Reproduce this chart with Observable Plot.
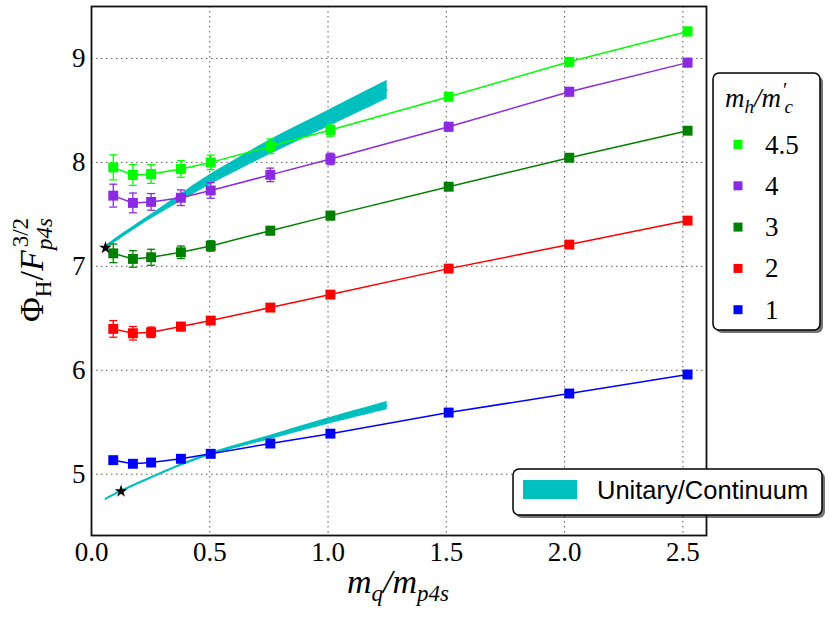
<!DOCTYPE html>
<html><head><meta charset="utf-8">
<script src="https://cdn.jsdelivr.net/npm/d3@7"></script>
<script src="https://cdn.jsdelivr.net/npm/@observablehq/plot@0.6"></script>
<style>body{margin:0;background:#fff}#chart{width:830px;height:623px}</style>
</head><body><div id="chart"></div>
<script>
// x values (m_q / m_p4s)
const mq = [0.092, 0.175, 0.252, 0.378, 0.504, 0.756, 1.01, 1.51, 2.02, 2.52];
// series (m_h / m'_c)
const ratios = ["4.5", "4", "3", "2", "1"];
const colors = ["#00ff00", "#8a2be2", "#008000", "#ff0000", "#0000ff"];
const phi_45 = [7.952, 7.879, 7.888, 7.937, 8.00, 8.155, 8.312, 8.632, 8.968, 9.26];
const err_45 = [0.12, 0.10, 0.09, 0.08, 0.07, 0.07, 0.06, 0.04, 0.04, 0.04];
const phi_4  = [7.68, 7.61, 7.62, 7.66, 7.73, 7.88, 8.033, 8.343, 8.68, 8.96];
const err_4  = [0.11, 0.095, 0.08, 0.075, 0.075, 0.065, 0.055, 0.04, 0.04, 0.04];
const phi_3  = [7.125, 7.071, 7.087, 7.135, 7.196, 7.343, 7.488, 7.766, 8.045, 8.305];
const err_3  = [0.09, 0.08, 0.077, 0.06, 0.05, 0.04, 0.04, 0.03, 0.03, 0.03];
const phi_2  = [6.398, 6.356, 6.365, 6.42, 6.478, 6.603, 6.728, 6.978, 7.209, 7.44];
const err_2  = [0.08, 0.065, 0.05, 0.04, 0.03, 0.03, 0.03, 0.03, 0.03, 0.03];
const phi_1  = [5.135, 5.10, 5.112, 5.148, 5.196, 5.295, 5.39, 5.593, 5.776, 5.959];
const err_1  = [0.035, 0.03, 0.03, 0.03, 0.03, 0.03, 0.03, 0.03, 0.03, 0.03];

// Unitary/Continuum bands
const bandUx  = [0.059, 0.15, 0.25, 0.375, 0.5, 0.75, 1.0, 1.25];
const bandUlo = [7.163, 7.306, 7.453, 7.62, 7.78, 8.07, 8.34, 8.61];
const bandUhi = [7.197, 7.344, 7.497, 7.69, 7.88, 8.21, 8.50, 8.79];
const bandLx  = [0.058, 0.125, 0.25, 0.375, 0.5, 0.75, 1.0, 1.25];
const bandLlo = [4.752, 4.828, 4.956, 5.076, 5.178, 5.33, 5.48, 5.62];
const bandLhi = [4.766, 4.846, 4.974, 5.096, 5.202, 5.37, 5.54, 5.70];

// stars
const starX = [0.059, 0.125];
const starY = [7.178, 4.836];

const xTicks = [0, 0.5, 1.0, 1.5, 2.0, 2.5];
const yTicks = [5, 6, 7, 8, 9];
const bandColor = "#00bfbf";

const vals = [phi_45, phi_4, phi_3, phi_2, phi_1];
const errs = [err_45, err_4, err_3, err_2, err_1];
const pts = ratios.flatMap((r, i) => mq.map((x, j) => ({x, y: vals[i][j], e: errs[i][j], r})));
const bands = [
  ...bandUx.map((x, j) => ({band: "U", x, lo: bandUlo[j], hi: bandUhi[j]})),
  ...bandLx.map((x, j) => ({band: "L", x, lo: bandLlo[j], hi: bandLhi[j]}))
];
const stars = starX.map((x, j) => ({x, y: starY[j]}));

const cap = {draw(ctx) { ctx.moveTo(-4, 0); ctx.lineTo(4, 0); }};
const serif = "'Liberation Serif','DejaVu Serif',serif";

const plot = Plot.plot({
  width: 830, height: 623,
  marginLeft: 91, marginRight: 124, marginTop: 6, marginBottom: 88,
  x: {domain: [0, 2.6]},
  y: {domain: [4.41, 9.5]},
  color: {domain: ratios, range: colors},
  style: {fontFamily: serif, fontSize: "26px", background: "white", overflow: "visible"},
  marks: [
    Plot.gridX(xTicks.slice(1), {stroke: "#000", strokeOpacity: 0.65, strokeDasharray: "1.5,3.5"}),
    Plot.gridY(yTicks, {stroke: "#000", strokeOpacity: 0.65, strokeDasharray: "1.5,3.5"}),
    Plot.areaY(bands, {x: "x", y1: "lo", y2: "hi", z: "band", fill: bandColor, curve: "catmull-rom"}),
    Plot.line(bands, {x: "x", y: d => (d.lo + d.hi) / 2, z: "band", stroke: bandColor, strokeWidth: 1.3, curve: "catmull-rom"}),
    Plot.line(pts, {x: "x", y: "y", z: "r", stroke: "r", strokeWidth: 1.5}),
    Plot.ruleX(pts, {x: "x", y1: d => d.y - d.e, y2: d => d.y + d.e, stroke: "r", strokeWidth: 1.3}),
    Plot.dot(pts, {x: "x", y: d => d.y + d.e, symbol: cap, stroke: "r", strokeWidth: 1.3, r: 4}),
    Plot.dot(pts, {x: "x", y: d => d.y - d.e, symbol: cap, stroke: "r", strokeWidth: 1.3, r: 4}),
    Plot.dot(pts, {x: "x", y: "y", symbol: "square", fill: "r", r: 5.6}),
    Plot.dot(stars, {x: "x", y: "y", symbol: "star", fill: "black", r: 4}),
    Plot.axisX({ticks: xTicks, tickFormat: d3.format(".1f"), tickSize: 0, tickPadding: 6, fontSize: 27, label: null}),
    Plot.axisY({ticks: yTicks, tickFormat: d => d, tickSize: 0, tickPadding: 6, fontSize: 27, label: null}),
    Plot.frame({stroke: "#111", strokeWidth: 1.8})
  ]
});
document.getElementById("chart").appendChild(plot);

const svg = d3.select(plot);

// x label
const xl = svg.append("text").attr("x", 398).attr("y", 593).attr("text-anchor", "middle")
  .style("font-family", serif).style("font-style", "italic").style("font-size", "34px").attr("fill", "#000");
xl.append("tspan").text("m");
xl.append("tspan").attr("dy", 8).style("font-size", "23px").text("q");
xl.append("tspan").attr("dy", -8).text("/m");
xl.append("tspan").attr("dy", 8).style("font-size", "23px").text("p4s");

// y label
const yl = svg.append("text").attr("transform", "translate(43,270) rotate(-90)").attr("text-anchor", "middle")
  .style("font-family", serif).style("font-size", "34px").attr("fill", "#000");
yl.append("tspan").text("Φ");
yl.append("tspan").attr("dy", 8).style("font-size", "23px").text("H");
yl.append("tspan").attr("dy", -8).text("/");
yl.append("tspan").style("font-style", "italic").text("F");
yl.append("tspan").attr("dx", 3).attr("dy", -15).style("font-size", "23px").text("3/2");
yl.append("tspan").attr("dx", -32).attr("dy", 24).style("font-size", "23px").style("font-style", "italic").text("p4s");

function box(g, x, y, w, h) {
  g.append("rect").attr("x", x + 3).attr("y", y + 3).attr("width", w).attr("height", h).attr("rx", 6)
    .attr("fill", "#000").attr("fill-opacity", 0.55);
  g.append("rect").attr("x", x).attr("y", y).attr("width", w).attr("height", h).attr("rx", 6)
    .attr("fill", "#fff").attr("stroke", "#000").attr("stroke-width", 1.5);
}

// legend: m_h / m'_c
const lg = svg.append("g");
box(lg, 713, 73, 107, 257);
const lt = lg.append("text").attr("x", 725).attr("y", 107).attr("text-anchor", "start")
  .style("font-family", serif).style("font-style", "italic").style("font-size", "27px");
lt.append("tspan").text("m");
lt.append("tspan").attr("dy", 6).style("font-size", "19px").text("h");
lt.append("tspan").attr("dy", -6).text("/m");
lt.append("tspan").attr("dx", 2).attr("dy", -10).style("font-size", "20px").style("font-style", "normal").text("′");
lt.append("tspan").attr("dx", -3).attr("dy", 16).style("font-size", "19px").text("c");
ratios.forEach((r, i) => {
  const cy = 144.5 + i * 41.3;
  lg.append("rect").attr("x", 733.5).attr("y", cy - 4.5).attr("width", 9).attr("height", 9).attr("fill", colors[i]);
  lg.append("text").attr("x", 765).attr("y", cy + 9).attr("text-anchor", "start")
    .style("font-family", serif).style("font-size", "27px").text(r);
});

// legend: Unitary/Continuum
const lg2 = svg.append("g");
box(lg2, 513, 469, 309, 46);
lg2.append("rect").attr("x", 523).attr("y", 480).attr("width", 54).attr("height", 19).attr("fill", bandColor);
lg2.append("text").attr("x", 597).attr("y", 499).attr("text-anchor", "start")
  .style("font-family", "'Liberation Sans',Arial,sans-serif")
  .style("font-size", "25.5px").text("Unitary/Continuum");
</script></body></html>
